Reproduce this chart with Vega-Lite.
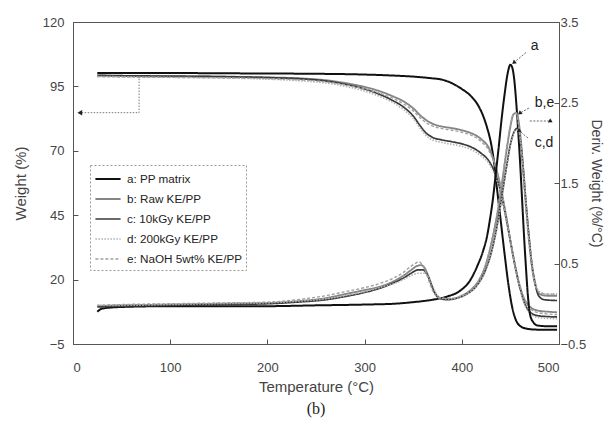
{
"$schema":"https://vega.github.io/schema/vega-lite/v6.json",
"width":486,"height":322,
"autosize":{"type":"none"},
"padding":{"left":73,"top":22,"right":48,"bottom":88},
"title":{"text":"(b)","orient":"bottom","font":"Liberation Serif","fontSize":16,"fontWeight":"normal","color":"#222","offset":7},
"datasets":{
"tga":[
{"s":"a: PP matrix","T":25,"v":100.2},{"s":"a: PP matrix","T":50,"v":100.2},{"s":"a: PP matrix","T":100,"v":100.2},{"s":"a: PP matrix","T":150,"v":100.1},{"s":"a: PP matrix","T":200,"v":100.0},{"s":"a: PP matrix","T":250,"v":99.9},{"s":"a: PP matrix","T":300,"v":99.6},{"s":"a: PP matrix","T":330,"v":99.2},{"s":"a: PP matrix","T":350,"v":98.8},{"s":"a: PP matrix","T":368,"v":98.2},{"s":"a: PP matrix","T":380,"v":97.6},{"s":"a: PP matrix","T":390,"v":96.2},{"s":"a: PP matrix","T":400,"v":94},{"s":"a: PP matrix","T":410,"v":91},{"s":"a: PP matrix","T":417,"v":87.5},{"s":"a: PP matrix","T":422,"v":83.5},{"s":"a: PP matrix","T":426,"v":79},{"s":"a: PP matrix","T":430,"v":73},{"s":"a: PP matrix","T":433,"v":66},{"s":"a: PP matrix","T":436,"v":56},{"s":"a: PP matrix","T":440,"v":43},{"s":"a: PP matrix","T":444,"v":30},{"s":"a: PP matrix","T":448,"v":18},{"s":"a: PP matrix","T":452,"v":9},{"s":"a: PP matrix","T":456,"v":4},{"s":"a: PP matrix","T":460,"v":2},{"s":"a: PP matrix","T":466,"v":1},{"s":"a: PP matrix","T":475,"v":0.6},{"s":"a: PP matrix","T":490,"v":0.5},{"s":"a: PP matrix","T":498,"v":0.5},
{"s":"b: Raw KE/PP","T":25,"v":99.2},{"s":"b: Raw KE/PP","T":60,"v":99.0},{"s":"b: Raw KE/PP","T":100,"v":98.9},{"s":"b: Raw KE/PP","T":150,"v":98.8},{"s":"b: Raw KE/PP","T":200,"v":98.5},{"s":"b: Raw KE/PP","T":240,"v":98.0},{"s":"b: Raw KE/PP","T":260,"v":97.4},{"s":"b: Raw KE/PP","T":280,"v":96.3},{"s":"b: Raw KE/PP","T":300,"v":94.8},{"s":"b: Raw KE/PP","T":315,"v":93.2},{"s":"b: Raw KE/PP","T":330,"v":91},{"s":"b: Raw KE/PP","T":340,"v":89.2},{"s":"b: Raw KE/PP","T":350,"v":86.5},{"s":"b: Raw KE/PP","T":358,"v":83.5},{"s":"b: Raw KE/PP","T":365,"v":81.5},{"s":"b: Raw KE/PP","T":372,"v":80.2},{"s":"b: Raw KE/PP","T":380,"v":79.4},{"s":"b: Raw KE/PP","T":390,"v":78.8},{"s":"b: Raw KE/PP","T":400,"v":78},{"s":"b: Raw KE/PP","T":410,"v":76.8},{"s":"b: Raw KE/PP","T":420,"v":74.5},{"s":"b: Raw KE/PP","T":428,"v":71},{"s":"b: Raw KE/PP","T":434,"v":65},{"s":"b: Raw KE/PP","T":440,"v":56},{"s":"b: Raw KE/PP","T":445,"v":46},{"s":"b: Raw KE/PP","T":450,"v":35},{"s":"b: Raw KE/PP","T":455,"v":25},{"s":"b: Raw KE/PP","T":460,"v":17},{"s":"b: Raw KE/PP","T":465,"v":12},{"s":"b: Raw KE/PP","T":470,"v":9.5},{"s":"b: Raw KE/PP","T":478,"v":8},{"s":"b: Raw KE/PP","T":490,"v":7.5},{"s":"b: Raw KE/PP","T":498,"v":7.3},
{"s":"c: 10kGy KE/PP","T":25,"v":99.3},{"s":"c: 10kGy KE/PP","T":60,"v":99.1},{"s":"c: 10kGy KE/PP","T":100,"v":99.0},{"s":"c: 10kGy KE/PP","T":150,"v":98.8},{"s":"c: 10kGy KE/PP","T":200,"v":98.4},{"s":"c: 10kGy KE/PP","T":240,"v":97.8},{"s":"c: 10kGy KE/PP","T":260,"v":97.1},{"s":"c: 10kGy KE/PP","T":280,"v":95.8},{"s":"c: 10kGy KE/PP","T":300,"v":94},{"s":"c: 10kGy KE/PP","T":315,"v":92},{"s":"c: 10kGy KE/PP","T":330,"v":89.3},{"s":"c: 10kGy KE/PP","T":340,"v":87},{"s":"c: 10kGy KE/PP","T":350,"v":83.5},{"s":"c: 10kGy KE/PP","T":357,"v":79.8},{"s":"c: 10kGy KE/PP","T":363,"v":77},{"s":"c: 10kGy KE/PP","T":370,"v":75.2},{"s":"c: 10kGy KE/PP","T":380,"v":74.2},{"s":"c: 10kGy KE/PP","T":390,"v":73.5},{"s":"c: 10kGy KE/PP","T":400,"v":72.7},{"s":"c: 10kGy KE/PP","T":410,"v":71.4},{"s":"c: 10kGy KE/PP","T":420,"v":69},{"s":"c: 10kGy KE/PP","T":428,"v":66},{"s":"c: 10kGy KE/PP","T":434,"v":61.5},{"s":"c: 10kGy KE/PP","T":440,"v":54},{"s":"c: 10kGy KE/PP","T":445,"v":45},{"s":"c: 10kGy KE/PP","T":450,"v":35},{"s":"c: 10kGy KE/PP","T":455,"v":25},{"s":"c: 10kGy KE/PP","T":460,"v":16.5},{"s":"c: 10kGy KE/PP","T":465,"v":10.5},{"s":"c: 10kGy KE/PP","T":470,"v":7.5},{"s":"c: 10kGy KE/PP","T":478,"v":6},{"s":"c: 10kGy KE/PP","T":490,"v":5.6},{"s":"c: 10kGy KE/PP","T":498,"v":5.5},
{"s":"d: 200kGy KE/PP","T":25,"v":98.9},{"s":"d: 200kGy KE/PP","T":60,"v":98.7},{"s":"d: 200kGy KE/PP","T":100,"v":98.5},{"s":"d: 200kGy KE/PP","T":150,"v":98.3},{"s":"d: 200kGy KE/PP","T":200,"v":97.8},{"s":"d: 200kGy KE/PP","T":240,"v":97},{"s":"d: 200kGy KE/PP","T":260,"v":96.3},{"s":"d: 200kGy KE/PP","T":280,"v":95},{"s":"d: 200kGy KE/PP","T":300,"v":93.2},{"s":"d: 200kGy KE/PP","T":315,"v":91.2},{"s":"d: 200kGy KE/PP","T":330,"v":88.5},{"s":"d: 200kGy KE/PP","T":340,"v":86},{"s":"d: 200kGy KE/PP","T":350,"v":82.5},{"s":"d: 200kGy KE/PP","T":357,"v":78.8},{"s":"d: 200kGy KE/PP","T":363,"v":76},{"s":"d: 200kGy KE/PP","T":370,"v":74.2},{"s":"d: 200kGy KE/PP","T":380,"v":73.2},{"s":"d: 200kGy KE/PP","T":390,"v":72.5},{"s":"d: 200kGy KE/PP","T":400,"v":71.7},{"s":"d: 200kGy KE/PP","T":410,"v":70.4},{"s":"d: 200kGy KE/PP","T":420,"v":68},{"s":"d: 200kGy KE/PP","T":428,"v":65},{"s":"d: 200kGy KE/PP","T":434,"v":60.5},{"s":"d: 200kGy KE/PP","T":440,"v":53.5},{"s":"d: 200kGy KE/PP","T":445,"v":44.5},{"s":"d: 200kGy KE/PP","T":450,"v":34.5},{"s":"d: 200kGy KE/PP","T":455,"v":24.5},{"s":"d: 200kGy KE/PP","T":460,"v":16},{"s":"d: 200kGy KE/PP","T":465,"v":10},{"s":"d: 200kGy KE/PP","T":470,"v":7},{"s":"d: 200kGy KE/PP","T":478,"v":5.3},{"s":"d: 200kGy KE/PP","T":490,"v":4.9},{"s":"d: 200kGy KE/PP","T":498,"v":4.8},
{"s":"e: NaOH 5wt% KE/PP","T":25,"v":98.8},{"s":"e: NaOH 5wt% KE/PP","T":60,"v":98.6},{"s":"e: NaOH 5wt% KE/PP","T":100,"v":98.5},{"s":"e: NaOH 5wt% KE/PP","T":150,"v":98.3},{"s":"e: NaOH 5wt% KE/PP","T":200,"v":98.0},{"s":"e: NaOH 5wt% KE/PP","T":240,"v":97.4},{"s":"e: NaOH 5wt% KE/PP","T":260,"v":96.8},{"s":"e: NaOH 5wt% KE/PP","T":280,"v":95.6},{"s":"e: NaOH 5wt% KE/PP","T":300,"v":94},{"s":"e: NaOH 5wt% KE/PP","T":315,"v":92.4},{"s":"e: NaOH 5wt% KE/PP","T":330,"v":90.2},{"s":"e: NaOH 5wt% KE/PP","T":340,"v":88.2},{"s":"e: NaOH 5wt% KE/PP","T":350,"v":85.5},{"s":"e: NaOH 5wt% KE/PP","T":358,"v":82.5},{"s":"e: NaOH 5wt% KE/PP","T":365,"v":80.5},{"s":"e: NaOH 5wt% KE/PP","T":372,"v":79.3},{"s":"e: NaOH 5wt% KE/PP","T":380,"v":78.6},{"s":"e: NaOH 5wt% KE/PP","T":390,"v":78},{"s":"e: NaOH 5wt% KE/PP","T":400,"v":77.2},{"s":"e: NaOH 5wt% KE/PP","T":410,"v":76},{"s":"e: NaOH 5wt% KE/PP","T":420,"v":73.6},{"s":"e: NaOH 5wt% KE/PP","T":428,"v":70},{"s":"e: NaOH 5wt% KE/PP","T":434,"v":64.5},{"s":"e: NaOH 5wt% KE/PP","T":440,"v":56},{"s":"e: NaOH 5wt% KE/PP","T":445,"v":46},{"s":"e: NaOH 5wt% KE/PP","T":450,"v":35.5},{"s":"e: NaOH 5wt% KE/PP","T":455,"v":25.5},{"s":"e: NaOH 5wt% KE/PP","T":460,"v":17.5},{"s":"e: NaOH 5wt% KE/PP","T":465,"v":12},{"s":"e: NaOH 5wt% KE/PP","T":470,"v":9},{"s":"e: NaOH 5wt% KE/PP","T":478,"v":7.2},{"s":"e: NaOH 5wt% KE/PP","T":490,"v":6.6},{"s":"e: NaOH 5wt% KE/PP","T":498,"v":6.4}
],
"dtg":[
{"s":"a: PP matrix","T":25,"v":-0.1},{"s":"a: PP matrix","T":30,"v":-0.06},{"s":"a: PP matrix","T":50,"v":-0.04},{"s":"a: PP matrix","T":100,"v":-0.03},{"s":"a: PP matrix","T":200,"v":-0.03},{"s":"a: PP matrix","T":250,"v":-0.02},{"s":"a: PP matrix","T":300,"v":-0.01},{"s":"a: PP matrix","T":330,"v":0.0},{"s":"a: PP matrix","T":350,"v":0.02},{"s":"a: PP matrix","T":370,"v":0.05},{"s":"a: PP matrix","T":385,"v":0.09},{"s":"a: PP matrix","T":398,"v":0.16},{"s":"a: PP matrix","T":408,"v":0.28},{"s":"a: PP matrix","T":416,"v":0.47},{"s":"a: PP matrix","T":422,"v":0.66},{"s":"a: PP matrix","T":426,"v":0.84},{"s":"a: PP matrix","T":429,"v":1.05},{"s":"a: PP matrix","T":432,"v":1.3},{"s":"a: PP matrix","T":435,"v":1.62},{"s":"a: PP matrix","T":438,"v":1.95},{"s":"a: PP matrix","T":441,"v":2.3},{"s":"a: PP matrix","T":444,"v":2.6},{"s":"a: PP matrix","T":447,"v":2.85},{"s":"a: PP matrix","T":450,"v":2.97},{"s":"a: PP matrix","T":452,"v":2.93},{"s":"a: PP matrix","T":454,"v":2.78},{"s":"a: PP matrix","T":456,"v":2.5},{"s":"a: PP matrix","T":458,"v":2.15},{"s":"a: PP matrix","T":460,"v":1.75},{"s":"a: PP matrix","T":462,"v":1.3},{"s":"a: PP matrix","T":464,"v":0.85},{"s":"a: PP matrix","T":466,"v":0.45},{"s":"a: PP matrix","T":468,"v":0.1},{"s":"a: PP matrix","T":470,"v":-0.12},{"s":"a: PP matrix","T":473,"v":-0.22},{"s":"a: PP matrix","T":478,"v":-0.27},{"s":"a: PP matrix","T":490,"v":-0.28},{"s":"a: PP matrix","T":498,"v":-0.28},
{"s":"b: Raw KE/PP","T":25,"v":-0.03},{"s":"b: Raw KE/PP","T":50,"v":-0.02},{"s":"b: Raw KE/PP","T":100,"v":-0.01},{"s":"b: Raw KE/PP","T":150,"v":0.0},{"s":"b: Raw KE/PP","T":200,"v":0.01},{"s":"b: Raw KE/PP","T":230,"v":0.03},{"s":"b: Raw KE/PP","T":260,"v":0.07},{"s":"b: Raw KE/PP","T":280,"v":0.12},{"s":"b: Raw KE/PP","T":300,"v":0.17},{"s":"b: Raw KE/PP","T":315,"v":0.21},{"s":"b: Raw KE/PP","T":330,"v":0.28},{"s":"b: Raw KE/PP","T":340,"v":0.35},{"s":"b: Raw KE/PP","T":348,"v":0.42},{"s":"b: Raw KE/PP","T":354,"v":0.47},{"s":"b: Raw KE/PP","T":358,"v":0.48},{"s":"b: Raw KE/PP","T":362,"v":0.44},{"s":"b: Raw KE/PP","T":366,"v":0.33},{"s":"b: Raw KE/PP","T":370,"v":0.2},{"s":"b: Raw KE/PP","T":374,"v":0.1},{"s":"b: Raw KE/PP","T":380,"v":0.06},{"s":"b: Raw KE/PP","T":390,"v":0.06},{"s":"b: Raw KE/PP","T":400,"v":0.1},{"s":"b: Raw KE/PP","T":410,"v":0.18},{"s":"b: Raw KE/PP","T":418,"v":0.3},{"s":"b: Raw KE/PP","T":425,"v":0.5},{"s":"b: Raw KE/PP","T":431,"v":0.78},{"s":"b: Raw KE/PP","T":437,"v":1.15},{"s":"b: Raw KE/PP","T":442,"v":1.55},{"s":"b: Raw KE/PP","T":446,"v":1.9},{"s":"b: Raw KE/PP","T":450,"v":2.2},{"s":"b: Raw KE/PP","T":453,"v":2.35},{"s":"b: Raw KE/PP","T":456,"v":2.37},{"s":"b: Raw KE/PP","T":458,"v":2.3},{"s":"b: Raw KE/PP","T":461,"v":2.0},{"s":"b: Raw KE/PP","T":464,"v":1.55},{"s":"b: Raw KE/PP","T":467,"v":1.1},{"s":"b: Raw KE/PP","T":470,"v":0.7},{"s":"b: Raw KE/PP","T":473,"v":0.4},{"s":"b: Raw KE/PP","T":476,"v":0.22},{"s":"b: Raw KE/PP","T":480,"v":0.12},{"s":"b: Raw KE/PP","T":488,"v":0.1},{"s":"b: Raw KE/PP","T":498,"v":0.1},
{"s":"c: 10kGy KE/PP","T":25,"v":-0.04},{"s":"c: 10kGy KE/PP","T":50,"v":-0.03},{"s":"c: 10kGy KE/PP","T":100,"v":-0.02},{"s":"c: 10kGy KE/PP","T":150,"v":-0.01},{"s":"c: 10kGy KE/PP","T":200,"v":0.0},{"s":"c: 10kGy KE/PP","T":230,"v":0.02},{"s":"c: 10kGy KE/PP","T":260,"v":0.05},{"s":"c: 10kGy KE/PP","T":280,"v":0.09},{"s":"c: 10kGy KE/PP","T":300,"v":0.14},{"s":"c: 10kGy KE/PP","T":315,"v":0.19},{"s":"c: 10kGy KE/PP","T":330,"v":0.26},{"s":"c: 10kGy KE/PP","T":340,"v":0.32},{"s":"c: 10kGy KE/PP","T":348,"v":0.38},{"s":"c: 10kGy KE/PP","T":355,"v":0.42},{"s":"c: 10kGy KE/PP","T":360,"v":0.42},{"s":"c: 10kGy KE/PP","T":364,"v":0.37},{"s":"c: 10kGy KE/PP","T":368,"v":0.26},{"s":"c: 10kGy KE/PP","T":372,"v":0.14},{"s":"c: 10kGy KE/PP","T":376,"v":0.08},{"s":"c: 10kGy KE/PP","T":385,"v":0.05},{"s":"c: 10kGy KE/PP","T":395,"v":0.07},{"s":"c: 10kGy KE/PP","T":405,"v":0.12},{"s":"c: 10kGy KE/PP","T":415,"v":0.22},{"s":"c: 10kGy KE/PP","T":423,"v":0.38},{"s":"c: 10kGy KE/PP","T":430,"v":0.62},{"s":"c: 10kGy KE/PP","T":436,"v":0.95},{"s":"c: 10kGy KE/PP","T":441,"v":1.32},{"s":"c: 10kGy KE/PP","T":446,"v":1.7},{"s":"c: 10kGy KE/PP","T":450,"v":1.98},{"s":"c: 10kGy KE/PP","T":454,"v":2.14},{"s":"c: 10kGy KE/PP","T":457,"v":2.18},{"s":"c: 10kGy KE/PP","T":460,"v":2.05},{"s":"c: 10kGy KE/PP","T":463,"v":1.7},{"s":"c: 10kGy KE/PP","T":466,"v":1.25},{"s":"c: 10kGy KE/PP","T":469,"v":0.85},{"s":"c: 10kGy KE/PP","T":472,"v":0.5},{"s":"c: 10kGy KE/PP","T":475,"v":0.28},{"s":"c: 10kGy KE/PP","T":479,"v":0.1},{"s":"c: 10kGy KE/PP","T":485,"v":0.05},{"s":"c: 10kGy KE/PP","T":498,"v":0.04},
{"s":"d: 200kGy KE/PP","T":25,"v":-0.02},{"s":"d: 200kGy KE/PP","T":50,"v":-0.02},{"s":"d: 200kGy KE/PP","T":100,"v":-0.01},{"s":"d: 200kGy KE/PP","T":150,"v":0.0},{"s":"d: 200kGy KE/PP","T":200,"v":0.01},{"s":"d: 200kGy KE/PP","T":230,"v":0.03},{"s":"d: 200kGy KE/PP","T":260,"v":0.06},{"s":"d: 200kGy KE/PP","T":280,"v":0.1},{"s":"d: 200kGy KE/PP","T":300,"v":0.15},{"s":"d: 200kGy KE/PP","T":315,"v":0.2},{"s":"d: 200kGy KE/PP","T":330,"v":0.25},{"s":"d: 200kGy KE/PP","T":340,"v":0.3},{"s":"d: 200kGy KE/PP","T":348,"v":0.35},{"s":"d: 200kGy KE/PP","T":356,"v":0.38},{"s":"d: 200kGy KE/PP","T":362,"v":0.38},{"s":"d: 200kGy KE/PP","T":366,"v":0.32},{"s":"d: 200kGy KE/PP","T":370,"v":0.22},{"s":"d: 200kGy KE/PP","T":374,"v":0.12},{"s":"d: 200kGy KE/PP","T":379,"v":0.07},{"s":"d: 200kGy KE/PP","T":388,"v":0.06},{"s":"d: 200kGy KE/PP","T":398,"v":0.08},{"s":"d: 200kGy KE/PP","T":408,"v":0.14},{"s":"d: 200kGy KE/PP","T":417,"v":0.25},{"s":"d: 200kGy KE/PP","T":425,"v":0.42},{"s":"d: 200kGy KE/PP","T":431,"v":0.66},{"s":"d: 200kGy KE/PP","T":437,"v":1.0},{"s":"d: 200kGy KE/PP","T":442,"v":1.38},{"s":"d: 200kGy KE/PP","T":447,"v":1.76},{"s":"d: 200kGy KE/PP","T":451,"v":2.02},{"s":"d: 200kGy KE/PP","T":455,"v":2.15},{"s":"d: 200kGy KE/PP","T":458,"v":2.16},{"s":"d: 200kGy KE/PP","T":461,"v":1.98},{"s":"d: 200kGy KE/PP","T":464,"v":1.6},{"s":"d: 200kGy KE/PP","T":467,"v":1.15},{"s":"d: 200kGy KE/PP","T":470,"v":0.75},{"s":"d: 200kGy KE/PP","T":473,"v":0.45},{"s":"d: 200kGy KE/PP","T":476,"v":0.25},{"s":"d: 200kGy KE/PP","T":480,"v":0.15},{"s":"d: 200kGy KE/PP","T":488,"v":0.12},{"s":"d: 200kGy KE/PP","T":498,"v":0.12},
{"s":"e: NaOH 5wt% KE/PP","T":25,"v":-0.02},{"s":"e: NaOH 5wt% KE/PP","T":50,"v":-0.01},{"s":"e: NaOH 5wt% KE/PP","T":100,"v":0.0},{"s":"e: NaOH 5wt% KE/PP","T":150,"v":0.01},{"s":"e: NaOH 5wt% KE/PP","T":200,"v":0.02},{"s":"e: NaOH 5wt% KE/PP","T":230,"v":0.05},{"s":"e: NaOH 5wt% KE/PP","T":260,"v":0.1},{"s":"e: NaOH 5wt% KE/PP","T":280,"v":0.15},{"s":"e: NaOH 5wt% KE/PP","T":300,"v":0.2},{"s":"e: NaOH 5wt% KE/PP","T":315,"v":0.25},{"s":"e: NaOH 5wt% KE/PP","T":330,"v":0.32},{"s":"e: NaOH 5wt% KE/PP","T":340,"v":0.39},{"s":"e: NaOH 5wt% KE/PP","T":347,"v":0.46},{"s":"e: NaOH 5wt% KE/PP","T":352,"v":0.5},{"s":"e: NaOH 5wt% KE/PP","T":356,"v":0.52},{"s":"e: NaOH 5wt% KE/PP","T":360,"v":0.47},{"s":"e: NaOH 5wt% KE/PP","T":364,"v":0.36},{"s":"e: NaOH 5wt% KE/PP","T":368,"v":0.22},{"s":"e: NaOH 5wt% KE/PP","T":372,"v":0.12},{"s":"e: NaOH 5wt% KE/PP","T":378,"v":0.07},{"s":"e: NaOH 5wt% KE/PP","T":390,"v":0.07},{"s":"e: NaOH 5wt% KE/PP","T":400,"v":0.1},{"s":"e: NaOH 5wt% KE/PP","T":410,"v":0.18},{"s":"e: NaOH 5wt% KE/PP","T":418,"v":0.3},{"s":"e: NaOH 5wt% KE/PP","T":425,"v":0.5},{"s":"e: NaOH 5wt% KE/PP","T":431,"v":0.8},{"s":"e: NaOH 5wt% KE/PP","T":437,"v":1.18},{"s":"e: NaOH 5wt% KE/PP","T":442,"v":1.58},{"s":"e: NaOH 5wt% KE/PP","T":446,"v":1.93},{"s":"e: NaOH 5wt% KE/PP","T":450,"v":2.22},{"s":"e: NaOH 5wt% KE/PP","T":453,"v":2.35},{"s":"e: NaOH 5wt% KE/PP","T":455,"v":2.37},{"s":"e: NaOH 5wt% KE/PP","T":457,"v":2.32},{"s":"e: NaOH 5wt% KE/PP","T":460,"v":2.05},{"s":"e: NaOH 5wt% KE/PP","T":463,"v":1.6},{"s":"e: NaOH 5wt% KE/PP","T":466,"v":1.15},{"s":"e: NaOH 5wt% KE/PP","T":469,"v":0.75},{"s":"e: NaOH 5wt% KE/PP","T":472,"v":0.45},{"s":"e: NaOH 5wt% KE/PP","T":475,"v":0.25},{"s":"e: NaOH 5wt% KE/PP","T":480,"v":0.14},{"s":"e: NaOH 5wt% KE/PP","T":488,"v":0.12},{"s":"e: NaOH 5wt% KE/PP","T":498,"v":0.12}
],
"leftarrow":[{"p":1,"T":68,"v":99.2},{"p":2,"T":68,"v":84.8},{"p":3,"T":9,"v":84.8}],
"leftheads":[{"t":"l","T":7,"v":84.8}],
"labels":[{"t":"a","T":471,"v":3.2},{"t":"b,e","T":475,"v":2.5},{"t":"c,d","T":475,"v":2.0}],
"rules":[{"t":"a","T":466,"v":3.12,"T2":454,"v2":3.0},{"t":"b,e","T":469,"v":2.43,"T2":460,"v2":2.37},{"t":"c,d","T":468,"v":2.06,"T2":459,"v2":2.15},{"t":"r","T":470,"v":2.27,"T2":491,"v2":2.27}],
"heads":[{"t":"a","T":454,"v":3.0},{"t":"b,e","T":460,"v":2.37},{"t":"c,d","T":459,"v":2.15},{"t":"r","T":491,"v":2.27}]
},
"encoding":{
"x":{"field":"T","type":"quantitative","scale":{"domain":[0,500],"nice":false},
"axis":{"title":"Temperature (°C)","values":[0,100,200,300,400,500],"orient":"bottom","labelPadding":22,"titlePadding":5}}
},
"layer":[
{"encoding":{"y":{"field":"v","type":"quantitative","scale":{"domain":[-5,120],"nice":false,"zero":false},
"axis":{"title":"Weight (%)","orient":"left","values":[-5,20,45,70,95,120],"labelPadding":14,"titlePadding":14}}},
"layer":[
{"data":{"name":"tga"},"mark":{"type":"line","interpolate":"monotone"},
"encoding":{
"detail":{"field":"s"},
"color":{"field":"s","type":"nominal","scale":{"domain":["a: PP matrix","b: Raw KE/PP","c: 10kGy KE/PP","d: 200kGy KE/PP","e: NaOH 5wt% KE/PP"],"range":["#111111","#858585","#3a3a3a","#b0b0b0","#a0a0a0"]},"legend":{"title":null}},
"strokeDash":{"field":"s","type":"nominal","scale":{"domain":["a: PP matrix","b: Raw KE/PP","c: 10kGy KE/PP","d: 200kGy KE/PP","e: NaOH 5wt% KE/PP"],"range":[[1,0],[1,0],[1,0],[1.5,1.5],[3,2]]},"legend":{"title":null}},
"strokeWidth":{"field":"s","type":"nominal","scale":{"domain":["a: PP matrix","b: Raw KE/PP","c: 10kGy KE/PP","d: 200kGy KE/PP","e: NaOH 5wt% KE/PP"],"range":[2,1.4,1.2,1.3,1.3]},"legend":{"title":null}}
}},
{"data":{"name":"leftarrow"},"mark":{"type":"line","color":"#777","strokeDash":[1.5,1.5],"strokeWidth":1},"encoding":{"order":{"field":"p","type":"quantitative"}}},
{"data":{"name":"leftheads"},"mark":{"type":"point","shape":"triangle-left","filled":true,"color":"#222","size":30,"opacity":1}}
]},
{"encoding":{"y":{"field":"v","type":"quantitative","scale":{"domain":[-0.5,3.5],"nice":false,"zero":false},
"axis":{"title":"Deriv. Weight (%/°C)","orient":"right","values":[-0.5,0.5,1.5,2.5,3.5],"format":".1f","labelPadding":6,"titlePadding":3,"titleFontSize":14}}},
"layer":[
{"data":{"name":"dtg"},"mark":{"type":"line","interpolate":"monotone"},
"encoding":{
"detail":{"field":"s"},
"color":{"field":"s","type":"nominal","legend":{"title":null}},
"strokeDash":{"field":"s","type":"nominal","legend":{"title":null}},
"strokeWidth":{"field":"s","type":"nominal","legend":{"title":null}}
}},
{"data":{"name":"rules"},"mark":{"type":"rule","color":"#666","strokeWidth":1,"strokeDash":[2,1.5]},
"encoding":{"x2":{"field":"T2"},"y2":{"field":"v2"}}},
{"data":{"name":"heads"},"mark":{"type":"point","filled":true,"color":"#222","size":22,"opacity":1,"shape":"triangle"},
"encoding":{"angle":{"field":"t","type":"nominal","scale":{"domain":["a","b,e","c,d","r"],"range":[230,239,312,90]},"legend":null}}},
{"data":{"name":"labels"},"mark":{"type":"text","font":"Liberation Sans","fontSize":14,"color":"#222","align":"left","baseline":"middle"},
"encoding":{"text":{"field":"t"}}}
]}
],
"resolve":{"scale":{"y":"independent"}},
"config":{
"view":{"stroke":"#555","strokeWidth":1},
"axis":{"grid":false,"labelFont":"Liberation Sans","labelFontSize":13,"labelColor":"#444","titleFont":"Liberation Sans","titleFontSize":15,"titleFontWeight":"normal","titleColor":"#444","domainColor":"#555","tickColor":"#555","tickSize":-5},
"legend":{"orient":"none","legendX":17,"legendY":143,"symbolType":"M-1.4,0H1.4","symbolSize":324,"symbolOffset":4,"labelFont":"Liberation Sans","labelFontSize":11.7,"labelColor":"#222","rowPadding":3,"padding":4,"fillColor":"white","strokeColor":"#999","strokeDash":[2,2],"labelOffset":9}
}
}
